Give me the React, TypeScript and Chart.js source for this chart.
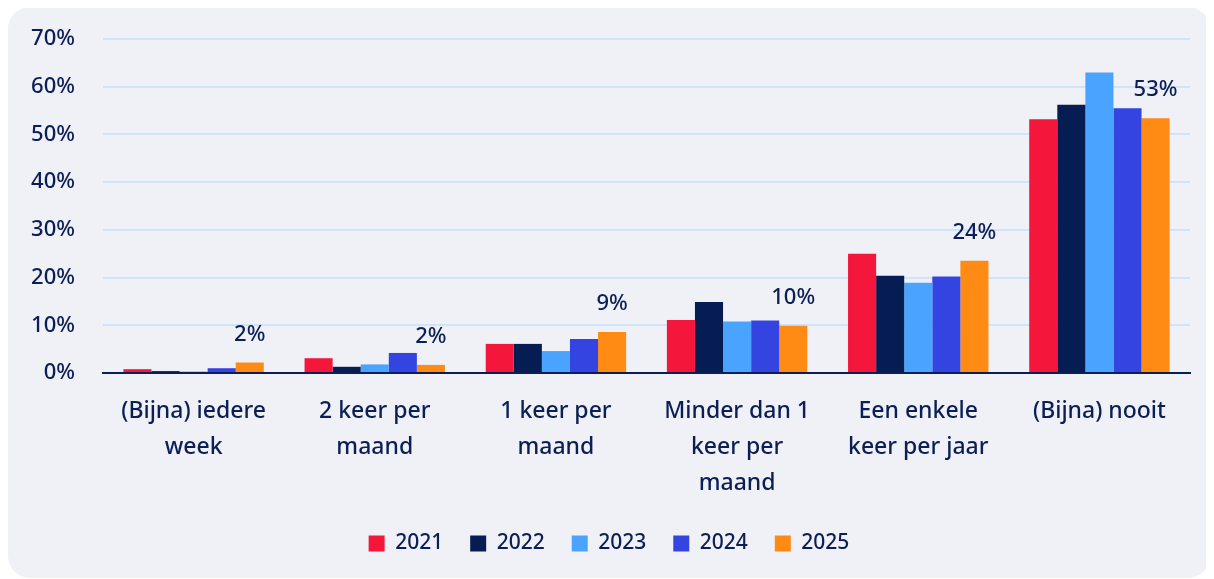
import React, { useEffect, useRef } from "react";
import { Chart, registerables } from "chart.js";

Chart.register(...registerables);

const categories: string[][] = [
  ["(Bijna) iedere", "week"],
  ["2 keer per", "maand"],
  ["1 keer per", "maand"],
  ["Minder dan 1", "keer per", "maand"],
  ["Een enkele", "keer per jaar"],
  ["(Bijna) nooit"],
];
const years = ["2021", "2022", "2023", "2024", "2025"];
const v2021 = [0.8, 3.1, 6.1, 11.1, 25.0, 53.2];
const v2022 = [0.4, 1.3, 6.1, 14.9, 20.4, 56.2];
const v2023 = [0.3, 1.8, 4.6, 10.8, 18.9, 63.0];
const v2024 = [1.0, 4.2, 7.1, 11.0, 20.2, 55.5];
const v2025 = [2.2, 1.7, 8.6, 9.9, 23.5, 53.4];
const yTicks = [0, 10, 20, 30, 40, 50, 60, 70];
const colors = ["#F5163B", "#061D53", "#4AA3FF", "#3344E0", "#FF8A14"];

const TEXT = "#0B1F56";
const FONT = "'Noto Sans', sans-serif";

const labelPlugin = {
  id: "lastLabels",
  afterLayout(chart: any) {
    const l = chart.legend;
    if (l) {
      l.right += 20;
      l.width += 20;
    }
  },
  afterDatasetsDraw(chart: any) {
    const ctx = chart.ctx;
    const meta = chart.getDatasetMeta(4);
    const data = chart.data.datasets[4].data as number[];
    ctx.save();
    ctx.font = `500 22px ${FONT}`;
    ctx.fillStyle = TEXT;
    ctx.textAlign = "center";
    ctx.textBaseline = "middle";
    meta.data.forEach((bar: any, i: number) => {
      ctx.fillText(Math.round(data[i]) + "%", bar.x, bar.y - 28);
    });
    ctx.restore();
  },
};

export default function App() {
  const ref = useRef<HTMLCanvasElement | null>(null);
  useEffect(() => {
    if (!ref.current) return;
    const series = [v2021, v2022, v2023, v2024, v2025];
    const chart = new Chart(ref.current, {
      type: "bar",
      data: {
        labels: categories,
        datasets: years.map((y, i) => ({
          label: y,
          data: series[i],
          backgroundColor: colors[i],
          borderWidth: 0,
          categoryPercentage: 0.775,
          barPercentage: 1,
        })),
      },
      options: {
        animation: false,
        responsive: false,
        maintainAspectRatio: false,
        layout: { padding: { top: 32, right: 20, left: 0, bottom: 14 } },
        scales: {
          x: {
            grid: { display: false, drawTicks: false },
            border: { display: true, color: TEXT, width: 2 },
            ticks: {
              color: TEXT,
              font: { family: FONT, size: 23, weight: "500", lineHeight: 36 / 23 },
              padding: 20,
              maxRotation: 0,
              autoSkip: false,
            },
            afterFit(scale: any) {
              scale.height = 133;
            },
          },
          y: {
            min: 0,
            max: 70,
            afterBuildTicks(scale: any) {
              scale.ticks = yTicks.map((v) => ({ value: v }));
            },
            grid: { color: "#CFE3FA", lineWidth: 2, drawTicks: false },
            border: { display: false },
            ticks: {
              color: TEXT,
              font: { family: FONT, size: 22, weight: "500" },
              padding: 28,
              callback: (v: any) => v + "%",
            },
            afterFit(scale: any) {
              scale.width = 95;
              scale.paddingTop = 0;
              scale.paddingBottom = 0;
            },
          },
        },
        plugins: {
          legend: {
            position: "bottom",
            labels: {
              color: TEXT,
              font: { family: FONT, size: 21, weight: "500" },
              boxWidth: 16,
              boxHeight: 16,
              padding: 27,
            },
          },
          tooltip: { enabled: false },
        },
      },
      plugins: [labelPlugin],
    });
    return () => chart.destroy();
  }, []);
  return (
    <div
      style={{
        width: 1202,
        height: 571,
        marginTop: -1,
        background: "#F0F1F6",
        borderRadius: 22,
        overflow: "hidden",
      }}
    >
      <canvas ref={ref} width={1202} height={571} style={{ display: "block" }} />
    </div>
  );
}
